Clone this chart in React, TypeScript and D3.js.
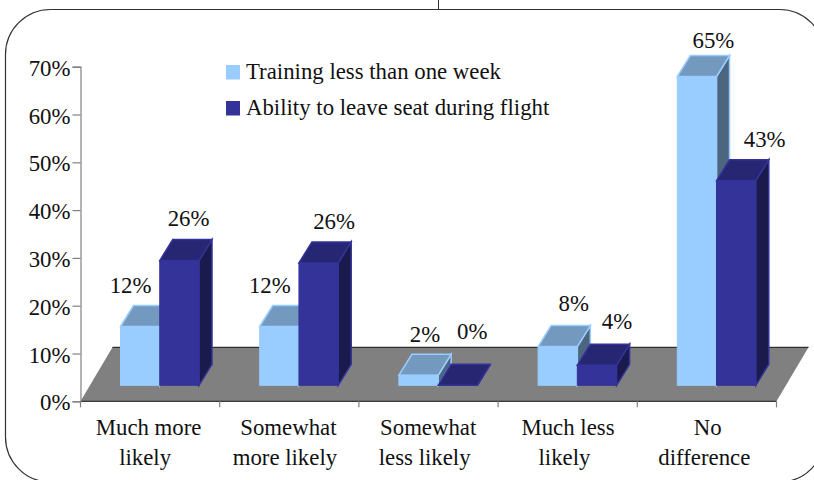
import React, { useEffect, useRef } from 'react';
import * as d3 from 'd3';

const categories = [
  ['Much more', 'likely'],
  ['Somewhat', 'more likely'],
  ['Somewhat', 'less likely'],
  ['Much less', 'likely'],
  ['No', 'difference'],
];
const seriesNames = ['Training less than one week', 'Ability to leave seat during flight'];
const training = [12.3, 12.3, 2.1, 8.1, 64.6];
const ability = [26.1, 25.6, 0, 4.2, 42.8];
const yTicks = [0, 10, 20, 30, 40, 50, 60, 70];

// hand nudges for the value labels, the original has them placed unevenly
const labelNudgeA = [[-16, 12.7], [-16, 12.7], [0, 12], [9.5, 14.7], [10, 8]];
const labelNudgeB = [[2.7, 14], [9, 12.7], [8, 25], [13.5, 15], [22, 13]];

const palette = [
  { front: '#99ccff', top: '#7399bf', side: '#4d6680', edge: '#99ccff' },
  { front: '#333399', top: '#262673', side: '#1a1a4d', edge: '#333399' },
];

const font = '"Liberation Serif", "Times New Roman", serif';
const fontSize = 22.8;

const App = () => {
  const svgRef = useRef<SVGSVGElement>(null);

  useEffect(() => {
    const svg = d3.select(svgRef.current);
    svg.selectAll('*').remove();

    const y = d3.scaleLinear().domain([0, 70]).range([401.3, 66.7]);
    const groupNames = categories.map(c => c.join(' '));
    const xGroup = d3.scaleBand().domain(d3.range(groupNames.length).map(String)).range([80.5, 776.5]);
    const xSeries = d3.scaleBand().domain(['0', '1']).range([40, 118.5]);

    // depth of the floor and of the bars
    const floorDx = 32;
    const floorDy = -54;
    const barDx = 13;
    const barDy = -21;
    const baseLift = 16;

    // outer rounded frame, runs off the right side of the image
    svg.append('rect')
      .attr('x', 5.5).attr('y', 9.5)
      .attr('width', 819).attr('height', 472.5)
      .attr('rx', 45).attr('ry', 45)
      .attr('fill', 'white').attr('stroke', '#333').attr('stroke-width', 1.2);
    svg.append('line')
      .attr('x1', 438.5).attr('x2', 438.5).attr('y1', 0).attr('y2', 9)
      .attr('stroke', '#333');

    // floor
    const x0 = xGroup.range()[0];
    const x1 = xGroup.range()[1];
    const y0 = y(0);
    svg.append('path')
      .attr('d', `M${x0},${y0}L${x0 + floorDx},${y0 + floorDy}L${x1 + floorDx},${y0 + floorDy}L${x1},${y0}Z`)
      .attr('fill', '#808080');
    svg.append('line')
      .attr('x1', x0 + floorDx).attr('x2', x1 + floorDx)
      .attr('y1', y0 + floorDy).attr('y2', y0 + floorDy)
      .attr('stroke', '#111');
    svg.append('line')
      .attr('x1', x0).attr('x2', x1)
      .attr('y1', y0).attr('y2', y0)
      .attr('stroke', '#111');

    // y axis
    const yAxis = d3.axisLeft(y)
      .tickValues(yTicks)
      .tickSize(8)
      .tickPadding(2)
      .tickFormat(d => `${d}%`);
    const yG = svg.append('g').attr('transform', `translate(${x0},0)`).call(yAxis);
    yG.selectAll('path,line').attr('stroke', '#808080').attr('stroke-width', 1.2);
    yG.selectAll('text')
      .attr('dy', '0.38em')
      .attr('font-family', font).attr('font-size', fontSize).attr('fill', '#111');

    // x ticks sit on the band boundaries
    const boundaries = [...xGroup.domain().map(d => xGroup(d) as number), x1];
    svg.selectAll('.xtick').data(boundaries).enter().append('line')
      .attr('class', 'xtick')
      .attr('x1', d => d).attr('x2', d => d)
      .attr('y1', y0).attr('y2', y0 + 6)
      .attr('stroke', '#808080').attr('stroke-width', 1.2);

    // category labels, they drift a little to the right in the original
    categories.forEach((lines, i) => {
      const cx = (xGroup(String(i)) as number) + xGroup.bandwidth() / 2 - 1.5 + i * 0.6;
      lines.forEach((line, j) => {
        svg.append('text')
          .attr('x', cx - j * 3.5)
          .attr('y', 435 + j * 30)
          .attr('text-anchor', 'middle')
          .attr('font-family', font).attr('font-size', fontSize).attr('fill', '#111')
          .text(line);
      });
    });

    // bars, back to front, left to right
    const w = xSeries.bandwidth();
    const drawBar = (i: number, s: number, v: number) => {
      const c = palette[s];
      const left = (xGroup(String(i)) as number) + (xSeries(String(s)) as number);
      const right = left + w;
      const base = y(0) - baseLift;
      const top = base - (y(0) - y(v));
      const g = svg.append('g');
      g.append('path')
        .attr('d', `M${right},${top}L${right + barDx},${top + barDy}L${right + barDx},${base + barDy}L${right},${base}Z`)
        .attr('fill', c.side).attr('stroke', c.edge).attr('stroke-width', 1.5);
      g.append('path')
        .attr('d', `M${left},${top}L${left + barDx},${top + barDy}L${right + barDx},${top + barDy}L${right},${top}Z`)
        .attr('fill', c.top).attr('stroke', c.edge).attr('stroke-width', 1.5);
      g.append('rect')
        .attr('x', left).attr('y', top)
        .attr('width', w).attr('height', base - top)
        .attr('fill', c.front).attr('stroke', c.edge).attr('stroke-width', 1);
    };
    categories.forEach((_, i) => {
      drawBar(i, 0, training[i]);
      drawBar(i, 1, ability[i]);
    });

    // value labels
    const drawLabel = (i: number, s: number, v: number, nudge: number[]) => {
      const left = (xGroup(String(i)) as number) + (xSeries(String(s)) as number);
      const top = y(0) - baseLift - (y(0) - y(v)) + barDy;
      svg.append('text')
        .attr('x', left + w / 2 + barDx / 2 + nudge[0])
        .attr('y', top - nudge[1])
        .attr('text-anchor', 'middle')
        .attr('font-family', font).attr('font-size', fontSize).attr('fill', '#111')
        .text(`${Math.round(v)}%`);
    };
    categories.forEach((_, i) => {
      drawLabel(i, 0, training[i], labelNudgeA[i]);
      drawLabel(i, 1, ability[i], labelNudgeB[i]);
    });

    // legend
    seriesNames.forEach((name, i) => {
      svg.append('rect')
        .attr('x', 226).attr('y', 65 + i * 36)
        .attr('width', 14).attr('height', 14.5)
        .attr('fill', palette[i].front);
      svg.append('text')
        .attr('x', 246).attr('y', 79 + i * 36)
        .attr('font-family', font).attr('font-size', fontSize).attr('fill', '#111')
        .text(name);
    });
  }, []);

  return (
    <svg
      ref={svgRef}
      width={814}
      height={480}
      style={{ position: 'absolute', left: 0, top: 0, display: 'block', background: 'white' }}
    />
  );
};

export default App;
